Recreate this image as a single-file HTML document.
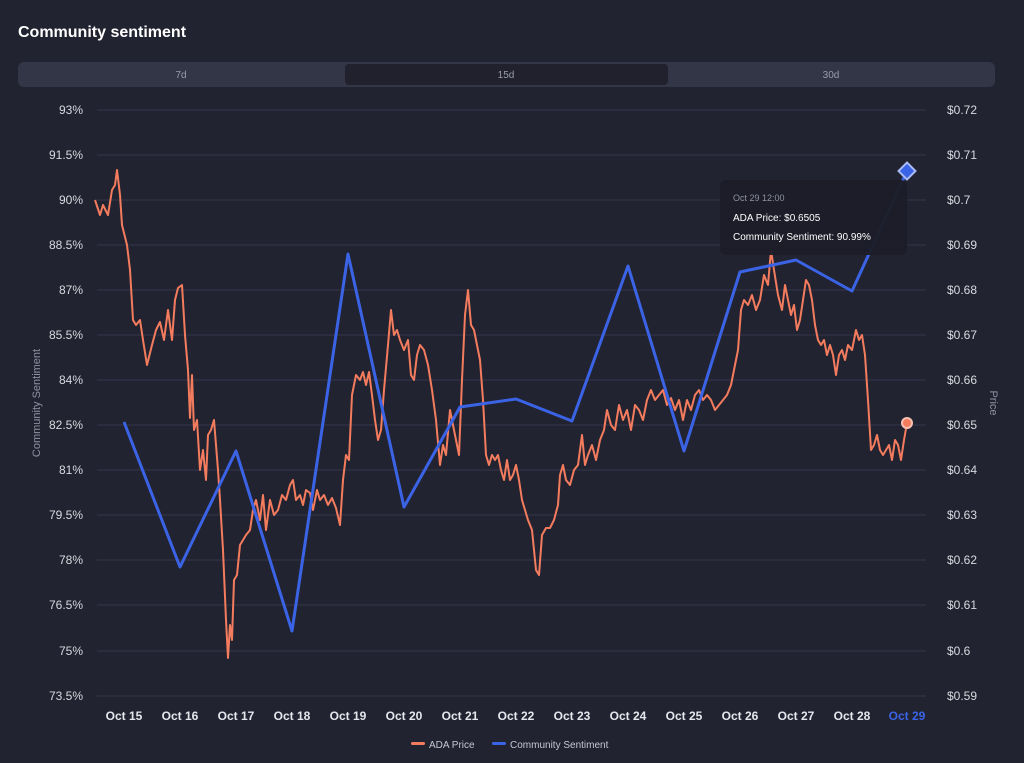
<!DOCTYPE html>
<html><head><meta charset="utf-8"><style>
html,body{margin:0;padding:0;background:#222330;}
body{width:1024px;height:758px;overflow:hidden;font-family:"Liberation Sans",sans-serif;}
</style></head><body>
<svg width="1024" height="758" xmlns="http://www.w3.org/2000/svg" font-family="Liberation Sans, sans-serif">
<rect width="1024" height="758" fill="#222330"/>
<text x="18" y="37" fill="#fff" font-size="16" font-weight="bold">Community sentiment</text>
<rect x="18" y="62" width="977" height="25" rx="6" fill="#333647"/>
<rect x="345" y="64" width="323" height="21" rx="4" fill="#20212d"/>
<text x="181" y="78" fill="#9a9cab" font-size="10" text-anchor="middle">7d</text>
<text x="506" y="78" fill="#9a9cab" font-size="10" text-anchor="middle">15d</text>
<text x="831" y="78" fill="#9a9cab" font-size="10" text-anchor="middle">30d</text>
<g stroke="#34364a" stroke-width="1">
<line x1="97" x2="926" y1="110" y2="110"/><line x1="97" x2="926" y1="155" y2="155"/><line x1="97" x2="926" y1="200" y2="200"/><line x1="97" x2="926" y1="245" y2="245"/><line x1="97" x2="926" y1="290" y2="290"/><line x1="97" x2="926" y1="335" y2="335"/><line x1="97" x2="926" y1="380" y2="380"/><line x1="97" x2="926" y1="425" y2="425"/><line x1="97" x2="926" y1="470" y2="470"/><line x1="97" x2="926" y1="515" y2="515"/><line x1="97" x2="926" y1="560" y2="560"/><line x1="97" x2="926" y1="605" y2="605"/><line x1="97" x2="926" y1="651" y2="651"/><line x1="97" x2="926" y1="696" y2="696"/>
</g>
<g fill="#d8d9e0" font-size="12" text-anchor="end">
<text x="83" y="114">93%</text><text x="83" y="159">91.5%</text><text x="83" y="204">90%</text><text x="83" y="249">88.5%</text><text x="83" y="294">87%</text><text x="83" y="339">85.5%</text><text x="83" y="384">84%</text><text x="83" y="429">82.5%</text><text x="83" y="474">81%</text><text x="83" y="519">79.5%</text><text x="83" y="564">78%</text><text x="83" y="609">76.5%</text><text x="83" y="655">75%</text><text x="83" y="700">73.5%</text>
</g>
<g fill="#d8d9e0" font-size="12">
<text x="947" y="114">$0.72</text><text x="947" y="159">$0.71</text><text x="947" y="204">$0.7</text><text x="947" y="249">$0.69</text><text x="947" y="294">$0.68</text><text x="947" y="339">$0.67</text><text x="947" y="384">$0.66</text><text x="947" y="429">$0.65</text><text x="947" y="474">$0.64</text><text x="947" y="519">$0.63</text><text x="947" y="564">$0.62</text><text x="947" y="609">$0.61</text><text x="947" y="655">$0.6</text><text x="947" y="700">$0.59</text>
</g>
<text transform="translate(40,403) rotate(-90)" fill="#8f91a3" font-size="11" text-anchor="middle">Community Sentiment</text>
<text transform="translate(990,403) rotate(90)" fill="#8f91a3" font-size="11" text-anchor="middle">Price</text>
<g fill="#e6e7ee" font-size="12" font-weight="bold" text-anchor="middle">
<text x="124" y="720">Oct 15</text><text x="180" y="720">Oct 16</text><text x="236" y="720">Oct 17</text><text x="292" y="720">Oct 18</text><text x="348" y="720">Oct 19</text><text x="404" y="720">Oct 20</text><text x="460" y="720">Oct 21</text><text x="516" y="720">Oct 22</text><text x="572" y="720">Oct 23</text><text x="628" y="720">Oct 24</text><text x="684" y="720">Oct 25</text><text x="740" y="720">Oct 26</text><text x="796" y="720">Oct 27</text><text x="852" y="720">Oct 28</text><text x="907" y="720" fill="#3b63e6">Oct 29</text>
</g>
<polyline fill="none" stroke="#f47c5e" stroke-width="2" stroke-linejoin="round" points="95,200 100,215 103,205 108,215 112,190 115,185 117,170 120,195 122,225 127,245 130,270 133,320 136,325 140,320 143,340 147,365 152,345 156,330 160,322 164,340 168,310 172,340 175,300 178,288 182,285 185,335 188,370 190,418 192,375 194,430 197,420 200,470 203,450 206,480 208,435 211,430 214,420 216,445 218,470 220,500 223,550 226,620 228,658 230,625 232,640 234,580 237,575 240,545 243,540 246,535 250,530 253,510 256,500 260,520 263,495 266,530 270,500 274,515 278,510 282,495 286,500 290,485 293,480 296,500 300,495 303,505 306,490 310,493 313,510 317,490 320,500 324,495 328,505 332,498 336,508 340,525 343,480 346,455 349,460 352,395 356,375 360,380 363,372 366,385 369,372 372,395 375,420 378,440 381,430 384,390 388,345 391,310 394,335 397,330 400,340 404,350 408,340 411,375 414,380 417,355 420,345 424,350 428,365 432,390 436,420 440,465 443,445 446,455 450,410 453,425 456,440 459,455 462,380 465,315 468,290 471,325 474,330 477,345 480,360 483,400 486,455 489,465 492,455 495,460 498,455 501,470 504,480 507,460 510,480 513,475 516,465 519,480 522,500 525,510 528,520 532,530 536,570 539,575 542,535 546,528 550,528 554,520 558,505 560,475 563,465 566,480 570,485 574,470 578,465 582,435 585,465 588,455 592,445 596,460 600,440 604,430 607,410 611,425 615,430 619,405 623,420 627,410 631,430 635,405 639,410 643,420 647,400 651,390 655,400 659,395 663,390 667,405 671,398 675,410 679,400 683,420 687,400 691,410 695,395 699,390 703,400 707,395 711,400 715,410 719,405 723,400 727,395 731,385 735,365 738,350 741,310 744,300 748,305 752,295 756,310 760,300 764,275 768,285 771,250 774,270 778,295 782,310 785,285 788,300 791,315 794,305 797,330 800,320 803,300 806,280 809,285 812,300 815,325 818,340 821,345 824,340 827,355 830,345 833,355 836,375 839,355 842,350 845,360 848,345 852,350 856,330 859,340 862,335 865,355 868,400 871,450 874,445 877,435 880,450 883,455 886,450 889,445 892,460 895,440 898,445 901,460 904,440 907,423"/>
<polyline fill="none" stroke="#3b63e6" stroke-width="3" stroke-linejoin="round" points="124,422 180,567 236,451 292,631 348,254 404,507 460,407 516,399 572,421 628,266 684,451 740,272 796,260 852,291 907,171"/>
<circle cx="907" cy="423" r="5" fill="#f47c5e" stroke="#f7c1b2" stroke-width="2"/>
<rect x="901" y="165" width="12" height="12" fill="#3b63e6" stroke="#a9bcf7" stroke-width="2" transform="rotate(45 907 171)"/>
<rect x="720" y="180" width="187" height="75" rx="6" fill="#1c1d28" opacity="0.96"/>
<text x="733" y="201" fill="#8f91a3" font-size="9">Oct 29 12:00</text>
<text x="733" y="221" fill="#fff" font-size="10">ADA Price: $0.6505</text>
<text x="733" y="240" fill="#fff" font-size="10">Community Sentiment: 90.99%</text>
<rect x="411" y="742" width="14" height="3" rx="1.5" fill="#f47c5e"/>
<text x="429" y="748" fill="#c5c7d3" font-size="10">ADA Price</text>
<rect x="492" y="742" width="14" height="3" rx="1.5" fill="#3b63e6"/>
<text x="510" y="748" fill="#c5c7d3" font-size="10">Community Sentiment</text>
</svg>
</body></html>
